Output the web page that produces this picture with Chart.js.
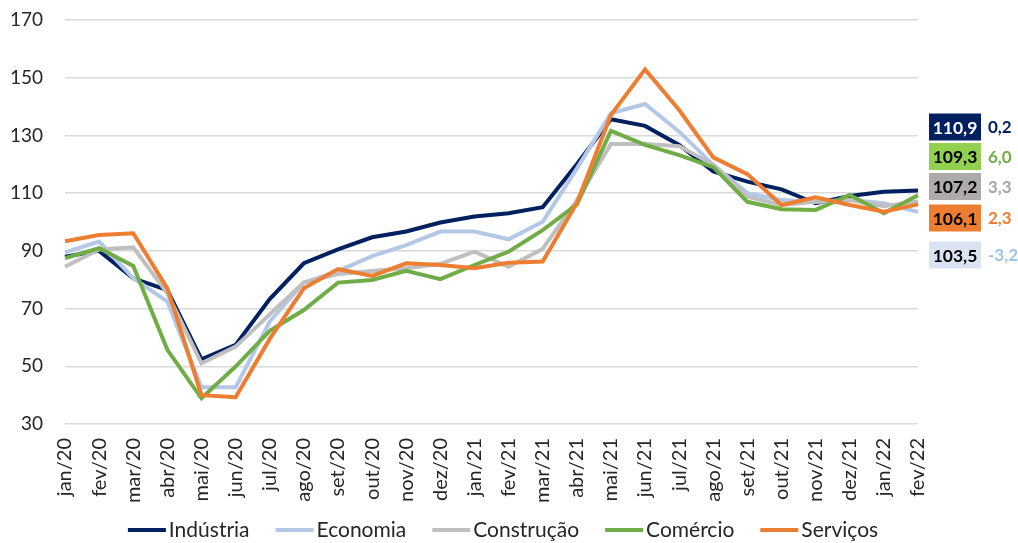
<!DOCTYPE html>
<html>
<head>
<meta charset="utf-8">
<style>
  html, body { margin: 0; padding: 0; background: #fff; }
  #wrap { width: 1018px; height: 543px; }
</style>
</head>
<body>
<div id="wrap"><canvas id="grafico" width="1018" height="543"></canvas></div>
<script src="https://cdn.jsdelivr.net/npm/chart.js"></script>
<script>
var meses = ['jan/20','fev/20','mar/20','abr/20','mai/20','jun/20','jul/20','ago/20','set/20','out/20','nov/20','dez/20',
             'jan/21','fev/21','mar/21','abr/21','mai/21','jun/21','jul/21','ago/21','set/21','out/21','nov/21','dez/21',
             'jan/22','fev/22'];

var industria  = [88, 90, 80.5, 76.4, 52.4, 57.4, 73.3, 85.7, 90.5, 94.7, 96.7, 99.8, 101.9, 103, 105.1, 120, 135.6, 133.3, 126.7, 117.5, 114, 111.3, 106.5, 109, 110.5, 110.9];
var economia   = [89.5, 93.2, 80.5, 72.4, 42.7, 42.7, 65.5, 79, 83, 88.2, 92, 96.7, 96.7, 94, 100.1, 118.5, 137.7, 140.9, 131.3, 119.8, 110, 107.6, 107, 107.6, 106.5, 103.5];
var construcao = [84.5, 90.5, 91.2, 75.3, 51, 56.8, 68, 79.1, 82, 83, 84, 85.5, 89.7, 84.5, 90.7, 107.5, 127, 127, 126.3, 119.8, 108.8, 105.9, 107, 107.6, 105.5, 107.2];
var comercio   = [87.5, 90.9, 84.8, 55.7, 38.9, 49.9, 62.3, 69.5, 79, 79.9, 83.1, 80.2, 85.1, 89.7, 97.2, 106, 131.6, 126.7, 123.2, 119, 107, 104.4, 104.2, 109.4, 103, 109.3];
var servicos   = [93.3, 95.5, 96.1, 77, 40, 39.3, 59.5, 77, 83.7, 81.3, 85.7, 85.1, 84, 85.9, 86.3, 106.5, 137.1, 152.9, 138.8, 122.4, 116.6, 105.9, 108.6, 105.9, 103.6, 106.1];

// variacao mostrada ao lado do ultimo valor
var variacao = [0.2, -3.2, 3.3, 6.0, 2.3];
var nomes = ['Indústria', 'Economia', 'Construção', 'Comércio', 'Serviços'];
var yTicks = [30, 50, 70, 90, 110, 130, 150, 170];

var cores      = ['#002060', '#B4C7E7', '#BFBFBF', '#70AD47', '#ED7D31'];
var caixaFundo = ['#002060', '#DAE3F3', '#AEAAAA', '#92D050', '#ED7D31'];
var caixaTexto = ['#FFFFFF', '#000000', '#000000', '#000000', '#000000'];
var varCor     = ['#002060', '#9DC3E6', '#A6A6A6', '#70AD47', '#ED7D31'];

var FONTE = 'Lato, "Open Sans", sans-serif';
var TEXTO = '#262626';
var series = [industria, economia, construcao, comercio, servicos];

// caixas com ultimo valor e variacao, a direita
var rotulosDireita = {
  id: 'rotulosDireita',
  afterDraw: function(chart) {
    var ctx = chart.ctx;
    var idx = [0, 1, 2, 3, 4].sort(function(a, b) {
      return series[b][series[b].length - 1] - series[a][series[a].length - 1];
    });
    var slots = [127, 156.5, 186.5, 218, 255];
    ctx.save();
    ctx.textBaseline = 'middle';
    idx.forEach(function(i, k) {
      var cy = slots[k];
      var ultimo = series[i][series[i].length - 1];
      ctx.fillStyle = caixaFundo[i];
      ctx.fillRect(929, cy - 13.5, 52, 27);
      ctx.font = 'bold 17.5px ' + FONTE;
      ctx.fillStyle = caixaTexto[i];
      ctx.textAlign = 'center';
      ctx.fillText(ultimo.toFixed(1).replace('.', ','), 955, cy + 1);
      ctx.font = 'bold 17px ' + FONTE;
      ctx.fillStyle = varCor[i];
      ctx.textAlign = 'left';
      ctx.fillText(variacao[i].toFixed(1).replace('.', ','), 988, cy + 1);
    });
    ctx.restore();
  }
};

// legenda desenhada a mao (linha curta + texto colado)
var legendaBaixo = {
  id: 'legendaBaixo',
  afterDraw: function(chart) {
    var ctx = chart.ctx;
    ctx.save();
    ctx.font = '21px ' + FONTE;
    ctx.textBaseline = 'middle';
    var larg = 0;
    var ws = nomes.map(function(n) { return ctx.measureText(n).width; });
    ws.forEach(function(w) { larg += 38 + 3 + w; });
    larg += 26 * (nomes.length - 1);
    var x = 503 - larg / 2;
    var y = 530;
    nomes.forEach(function(n, i) {
      ctx.strokeStyle = cores[i];
      ctx.lineWidth = 4;
      ctx.beginPath();
      ctx.moveTo(x, y);
      ctx.lineTo(x + 38, y);
      ctx.stroke();
      ctx.fillStyle = TEXTO;
      ctx.textAlign = 'left';
      ctx.fillText(n, x + 41, y);
      x += 38 + 3 + ws[i] + 26;
    });
    ctx.restore();
  }
};

var datasets = series.map(function(s, i) {
  return {
    label: nomes[i],
    data: s,
    borderColor: cores[i],
    backgroundColor: cores[i],
    borderWidth: 4,
    pointRadius: 0,
    fill: false,
    tension: 0,
    order: 4 - i
  };
});

var ctx = document.getElementById('grafico').getContext('2d');
new Chart(ctx, {
  type: 'line',
  data: { labels: meses, datasets: datasets },
  options: {
    responsive: false,
    animation: false,
    layout: { padding: { left: 0, right: 100, top: 20, bottom: 39 } },
    plugins: {
      tooltip: { enabled: false },
      legend: { display: false }
    },
    scales: {
      x: {
        offset: false,
        afterFit: function(scale) {
          scale.height = 80;
          scale.paddingTop = 0;
          scale.paddingBottom = 0;
        },
        grid: { display: false, drawTicks: false },
        border: { display: false },
        ticks: {
          font: { family: FONTE, size: 20 },
          color: TEXTO,
          autoSkip: false,
          minRotation: 90,
          maxRotation: 90,
          padding: 14
        }
      },
      y: {
        min: 30,
        max: 170,
        afterBuildTicks: function(scale) {
          scale.ticks = yTicks.map(function(v) { return { value: v }; });
        },
        afterFit: function(scale) {
          scale.width = 65;
          scale.paddingTop = 0;
          scale.paddingBottom = 0;
        },
        grid: { color: '#D9D9D9', lineWidth: 1.5, drawTicks: false },
        border: { display: false },
        ticks: {
          font: { family: FONTE, size: 19 },
          color: TEXTO,
          padding: 22
        }
      }
    }
  },
  plugins: [rotulosDireita, legendaBaixo]
});
</script>
</body>
</html>
